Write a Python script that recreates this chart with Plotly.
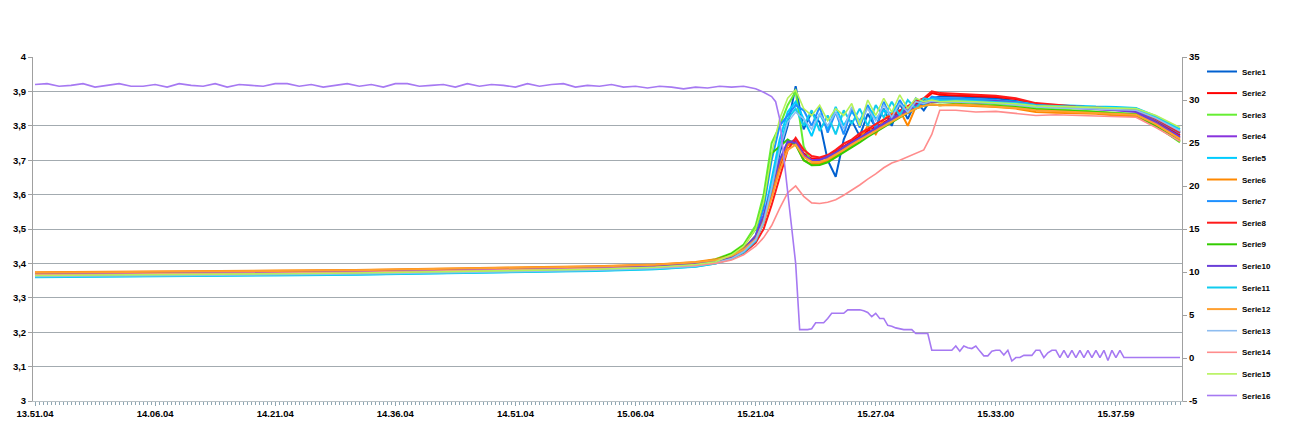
import plotly.graph_objects as go

# ---------------- category axis (sample index) ----------------
n_samples = 287
tick_index = [0, 30, 60, 90, 120, 150, 180, 210, 240, 270]
tick_labels = ["13.51.04", "14.06.04", "14.21.04", "14.36.04", "14.51.04",
               "15.06.04", "15.21.04", "15.27.04", "15.33.00", "15.37.59"]

# sample indices where the voltage series are read
idx_flat = [0, 20, 40, 60, 80, 100, 120, 140, 155, 165]
idx_rise = [170, 174, 177, 180, 182, 184, 186, 188, 190, 192, 194, 196, 198, 200,
            202, 204, 206, 208, 210, 212, 214, 216, 218, 220, 222, 224, 226]
idx_tail = [230, 235, 240, 245, 250, 255, 260, 265, 270, 275, 280, 286]
volt_idx = idx_flat + idx_rise + idx_tail

# ---------------- voltage series (left axis) ----------------
serie1 = [3.368, 3.369, 3.371, 3.373, 3.375, 3.378, 3.381, 3.386, 3.391, 3.398,
          3.410, 3.422, 3.440, 3.470, 3.520, 3.610, 3.720, 3.800, 3.915, 3.790, 3.840, 3.810, 3.700, 3.652,
          3.760, 3.815, 3.770, 3.835, 3.795, 3.850, 3.800, 3.865, 3.820, 3.870, 3.845, 3.880, 3.885,
          3.885, 3.882, 3.880, 3.872, 3.862, 3.858, 3.855, 3.852, 3.850, 3.846, 3.820, 3.780]
serie2 = [3.370, 3.371, 3.373, 3.375, 3.377, 3.380, 3.383, 3.388, 3.393, 3.400,
          3.405, 3.418, 3.435, 3.470, 3.520, 3.600, 3.680, 3.745, 3.755, 3.720, 3.705, 3.705, 3.712, 3.725,
          3.740, 3.755, 3.770, 3.785, 3.797, 3.810, 3.825, 3.838, 3.850, 3.862, 3.875, 3.895, 3.890,
          3.888, 3.886, 3.884, 3.878, 3.862, 3.857, 3.853, 3.851, 3.848, 3.845, 3.815, 3.772]
serie3 = [3.364, 3.365, 3.367, 3.369, 3.371, 3.374, 3.378, 3.383, 3.390, 3.400,
          3.412, 3.430, 3.455, 3.510, 3.600, 3.750, 3.800, 3.860, 3.900, 3.740, 3.692, 3.688, 3.695, 3.710,
          3.725, 3.742, 3.758, 3.772, 3.786, 3.800, 3.815, 3.830, 3.842, 3.855, 3.865, 3.870, 3.868,
          3.870, 3.866, 3.864, 3.860, 3.852, 3.848, 3.845, 3.842, 3.838, 3.835, 3.800, 3.752]
serie4 = [3.372, 3.373, 3.375, 3.377, 3.379, 3.382, 3.385, 3.390, 3.395, 3.402,
          3.410, 3.420, 3.438, 3.475, 3.530, 3.610, 3.690, 3.750, 3.760, 3.715, 3.700, 3.702, 3.708, 3.720,
          3.735, 3.750, 3.762, 3.778, 3.790, 3.805, 3.820, 3.830, 3.843, 3.855, 3.865, 3.870, 3.870,
          3.872, 3.868, 3.870, 3.866, 3.858, 3.855, 3.852, 3.850, 3.845, 3.840, 3.808, 3.765]
serie5 = [3.361, 3.362, 3.364, 3.366, 3.368, 3.371, 3.374, 3.379, 3.384, 3.391,
          3.400, 3.415, 3.435, 3.470, 3.530, 3.640, 3.760, 3.840, 3.870, 3.820, 3.770, 3.835, 3.790, 3.855,
          3.800, 3.840, 3.815, 3.860, 3.820, 3.845, 3.835, 3.870, 3.840, 3.875, 3.870, 3.880, 3.878,
          3.878, 3.876, 3.874, 3.870, 3.863, 3.860, 3.858, 3.856, 3.855, 3.852, 3.828, 3.790]
serie6 = [3.374, 3.375, 3.377, 3.379, 3.381, 3.384, 3.387, 3.392, 3.397, 3.404,
          3.412, 3.425, 3.445, 3.480, 3.535, 3.615, 3.690, 3.745, 3.750, 3.700, 3.688, 3.690, 3.700, 3.715,
          3.730, 3.745, 3.760, 3.800, 3.775, 3.820, 3.835, 3.845, 3.800, 3.855, 3.860, 3.862, 3.860,
          3.860, 3.858, 3.855, 3.850, 3.840, 3.838, 3.836, 3.835, 3.830, 3.828, 3.800, 3.758]
serie7 = [3.363, 3.364, 3.366, 3.368, 3.370, 3.373, 3.376, 3.381, 3.387, 3.395,
          3.405, 3.420, 3.440, 3.480, 3.560, 3.700, 3.800, 3.830, 3.860, 3.845, 3.800, 3.855, 3.780, 3.840,
          3.775, 3.850, 3.795, 3.860, 3.790, 3.870, 3.815, 3.875, 3.835, 3.880, 3.860, 3.885, 3.880,
          3.880, 3.877, 3.875, 3.868, 3.860, 3.856, 3.853, 3.850, 3.848, 3.845, 3.818, 3.778]
serie8 = [3.371, 3.372, 3.374, 3.376, 3.378, 3.381, 3.384, 3.389, 3.394, 3.399,
          3.403, 3.415, 3.430, 3.460, 3.500, 3.570, 3.650, 3.730, 3.765, 3.730, 3.712, 3.708, 3.715, 3.730,
          3.748, 3.760, 3.778, 3.790, 3.805, 3.818, 3.830, 3.845, 3.858, 3.870, 3.880, 3.900, 3.895,
          3.892, 3.890, 3.887, 3.880, 3.866, 3.860, 3.856, 3.853, 3.850, 3.846, 3.820, 3.780]
serie9 = [3.366, 3.367, 3.369, 3.371, 3.373, 3.376, 3.379, 3.384, 3.390, 3.398,
          3.410, 3.428, 3.452, 3.500, 3.580, 3.720, 3.740, 3.760, 3.745, 3.700, 3.685, 3.686, 3.694, 3.708,
          3.722, 3.738, 3.752, 3.768, 3.782, 3.796, 3.810, 3.825, 3.838, 3.850, 3.858, 3.862, 3.860,
          3.864, 3.860, 3.858, 3.855, 3.848, 3.845, 3.843, 3.840, 3.836, 3.833, 3.798, 3.755]
serie10 = [3.369, 3.370, 3.372, 3.374, 3.376, 3.379, 3.382, 3.387, 3.392, 3.400,
           3.408, 3.420, 3.440, 3.480, 3.540, 3.620, 3.700, 3.755, 3.750, 3.710, 3.698, 3.700, 3.710, 3.722,
           3.738, 3.752, 3.766, 3.780, 3.792, 3.808, 3.820, 3.835, 3.848, 3.860, 3.868, 3.875, 3.872,
           3.874, 3.870, 3.872, 3.868, 3.860, 3.856, 3.853, 3.850, 3.847, 3.842, 3.810, 3.768]
serie11 = [3.360, 3.361, 3.363, 3.365, 3.367, 3.370, 3.373, 3.378, 3.383, 3.390,
           3.400, 3.413, 3.432, 3.465, 3.520, 3.620, 3.740, 3.820, 3.850, 3.800, 3.845, 3.785, 3.830, 3.775,
           3.845, 3.805, 3.850, 3.800, 3.860, 3.825, 3.870, 3.830, 3.875, 3.850, 3.880, 3.875, 3.872,
           3.874, 3.872, 3.870, 3.866, 3.860, 3.857, 3.855, 3.853, 3.852, 3.850, 3.825, 3.785]
serie12 = [3.373, 3.374, 3.376, 3.378, 3.380, 3.383, 3.386, 3.391, 3.396, 3.403,
           3.410, 3.422, 3.440, 3.470, 3.520, 3.590, 3.670, 3.730, 3.745, 3.710, 3.695, 3.695, 3.703, 3.716,
           3.730, 3.745, 3.758, 3.772, 3.785, 3.798, 3.812, 3.826, 3.838, 3.850, 3.858, 3.862, 3.860,
           3.862, 3.860, 3.857, 3.852, 3.845, 3.842, 3.840, 3.838, 3.835, 3.832, 3.805, 3.762]
serie13 = [3.362, 3.363, 3.365, 3.367, 3.369, 3.372, 3.375, 3.380, 3.385, 3.392,
           3.402, 3.414, 3.434, 3.468, 3.520, 3.620, 3.730, 3.810, 3.840, 3.820, 3.790, 3.835, 3.800, 3.840,
           3.790, 3.855, 3.810, 3.850, 3.815, 3.860, 3.825, 3.865, 3.840, 3.870, 3.865, 3.872, 3.870,
           3.870, 3.868, 3.866, 3.860, 3.855, 3.852, 3.850, 3.848, 3.846, 3.845, 3.822, 3.785]
serie14 = [3.367, 3.368, 3.370, 3.372, 3.374, 3.377, 3.380, 3.385, 3.389, 3.394,
           3.400, 3.410, 3.425, 3.450, 3.475, 3.510, 3.560, 3.605, 3.625, 3.595, 3.576, 3.574, 3.578, 3.585,
           3.598, 3.612, 3.628, 3.645, 3.660, 3.678, 3.692, 3.700, 3.710, 3.722, 3.730, 3.775, 3.845,
           3.845, 3.840, 3.842, 3.835, 3.830, 3.832, 3.830, 3.828, 3.826, 3.825, 3.795, 3.755]
serie15 = [3.365, 3.366, 3.368, 3.370, 3.372, 3.375, 3.378, 3.383, 3.389, 3.397,
           3.405, 3.425, 3.450, 3.500, 3.580, 3.720, 3.820, 3.880, 3.905, 3.850, 3.830, 3.860, 3.815, 3.850,
           3.830, 3.865, 3.800, 3.875, 3.830, 3.880, 3.840, 3.890, 3.850, 3.880, 3.870, 3.875, 3.870,
           3.872, 3.870, 3.868, 3.864, 3.858, 3.856, 3.854, 3.852, 3.852, 3.850, 3.830, 3.795]

# ---------------- temperature series (right axis) ----------------
temp_idx = list(range(0, 166, 3)) + [168, 171, 174, 177, 180, 182, 183, 184, 185, 186,
                                     187, 188, 189, 190, 191] + list(range(192, 287))
serie16 = [31.8, 31.9, 31.6, 31.7, 31.9, 31.5, 31.7, 31.9, 31.6, 31.6,
           31.8, 31.5, 31.9, 31.7, 31.6, 31.9, 31.5, 31.8, 31.7, 31.6,
           31.9, 31.9, 31.6, 31.8, 31.5, 31.7, 31.9, 31.6, 31.8, 31.5,
           31.9, 31.9, 31.6, 31.7, 31.8, 31.5, 31.9, 31.6, 31.8, 31.7,
           31.5, 31.9, 31.6, 31.8, 31.9, 31.5, 31.7, 31.6, 31.8, 31.5,
           31.6, 31.4, 31.6, 31.5, 31.3, 31.5,
           31.4, 31.6, 31.5, 31.6, 31.3, 30.9, 30.6, 30.4, 29.8, 27.8,
           23.5, 19.5, 15.5, 11.0, 3.3,
           3.3, 3.3, 3.4, 4.1, 4.1, 4.1, 4.6, 5.2, 5.2, 5.2,
           5.2, 5.6, 5.6, 5.6, 5.6, 5.5, 5.3, 4.8, 5.2, 4.6,
           4.6, 3.8, 3.7, 3.5, 3.4, 3.3, 3.3, 3.3, 2.85, 2.85,
           2.85, 2.85, 0.9, 0.9, 0.9, 0.9, 0.9, 0.9, 1.4, 0.8,
           1.4, 1.2, 1.1, 1.4, 0.8, 0.25, 0.25, 0.8, 0.9, 0.9,
           0.35, 0.9, -0.35, 0.05, 0.05, 0.3, 0.3, 0.3, 0.9, 0.9,
           0.05, 0.6, 0.9, 0.9, 0.05, 0.9, 0.05, 0.9, 0.05, 0.9,
           0.05, 0.9, 0.05, 0.9, 0.05, 0.9, -0.3, 0.9, 0.05, 0.9,
           0.05, 0.05, 0.05, 0.05, 0.05, 0.05, 0.05, 0.05, 0.05, 0.05,
           0.05, 0.05, 0.05, 0.05, 0.05]

volt_series = [serie1, serie2, serie3, serie4, serie5, serie6, serie7, serie8,
               serie9, serie10, serie11, serie12, serie13, serie14, serie15]
series_names = ["Serie%d" % k for k in range(1, 17)]
series_colors = ["#0060D0", "#FF0000", "#66EE33", "#8833DD", "#00CCFF", "#FF8800",
                 "#1E90FF", "#FF1A1A", "#33CC00", "#6A3FD8", "#11CCEE", "#FFA030",
                 "#8EBDF0", "#FF8C8C", "#B5F25A", "#A679F2"]
series_widths = [2, 2, 2, 2, 2, 2, 2, 2, 2, 2, 2, 2, 1.6, 1.6, 1.6, 1.6]

left_ticks = [3, 3.1, 3.2, 3.3, 3.4, 3.5, 3.6, 3.7, 3.8, 3.9, 4]
left_labels = ["3", "3,1", "3,2", "3,3", "3,4", "3,5", "3,6", "3,7", "3,8", "3,9", "4"]
right_ticks = [-5, 0, 5, 10, 15, 20, 25, 30, 35]
right_labels = ["-5", "0", "5", "10", "15", "20", "25", "30", "35"]

assert len(temp_idx) == len(serie16), (len(temp_idx), len(serie16))
for s in volt_series:
    assert len(s) == len(volt_idx), len(s)

FONT = "Liberation Sans"
fig = go.Figure()
for k, vals in enumerate(volt_series):
    fig.add_trace(go.Scatter(
        x=volt_idx, y=vals, mode="lines", name=series_names[k],
        legendgroup=series_names[k],
        line=dict(color=series_colors[k], width=series_widths[k]),
        yaxis="y"))
fig.add_trace(go.Scatter(
    x=temp_idx, y=serie16, mode="lines", name=series_names[15],
    legendgroup=series_names[15],
    line=dict(color=series_colors[15], width=series_widths[15]),
    yaxis="y2"))

tickfont = dict(family=FONT, size=9.5, color="black", weight="bold")
fig.update_layout(
    width=1315, height=446,
    margin=dict(l=33, r=133, t=57, b=45, autoexpand=False),
    paper_bgcolor="white", plot_bgcolor="white",
    showlegend=True,
    xaxis=dict(range=[-0.5, n_samples - 0.5], tickmode="array",
               tickvals=tick_index, ticktext=tick_labels,
               ticks="outside", ticklen=4, tickcolor="#8fa7b3",
               showline=True, linecolor="#b8c0c4", linewidth=1,
               showgrid=False, zeroline=False, tickfont=tickfont,
               automargin=False,
               minor=dict(tickmode="linear", tick0=0, dtick=1, ticks="outside",
                          ticklen=3, tickcolor="#8fa7b3", showgrid=False)),
    yaxis=dict(range=[3, 4], tickmode="array", tickvals=left_ticks,
               ticktext=left_labels, ticks="outside", ticklen=4,
               tickcolor="#a0a0a0", showline=True, linecolor="#a0a0a0",
               showgrid=True, gridcolor="#a3abb0", gridwidth=1.3,
               zeroline=False, tickfont=tickfont, automargin=False),
    yaxis2=dict(range=[-5, 35], overlaying="y", side="right",
                tickmode="array", tickvals=right_ticks, ticktext=right_labels,
                ticks="outside", ticklen=4, tickcolor="#a0a0a0",
                showline=True, linecolor="#a0a0a0", showgrid=False,
                zeroline=False, tickfont=tickfont, automargin=False),
    legend=dict(x=1.0174, xanchor="left", y=1.0, yanchor="top",
                font=dict(family=FONT, size=8, color="black", weight="bold"),
                itemwidth=30, tracegroupgap=2.6, bgcolor="rgba(0,0,0,0)",
                maxheight=440),
)

# remove the browser's default 8px body margin so the figure sits at (0, 0)
fig.write_html("out.html",
               config={"displayModeBar": False},
               post_script="document.body.style.margin='0px';document.body.style.padding='0px';")
